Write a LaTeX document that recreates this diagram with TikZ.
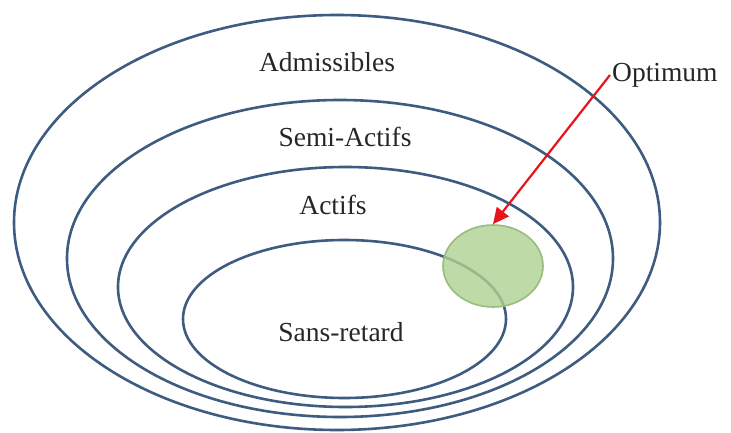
\documentclass[tikz,border=0pt]{standalone}
\usepackage{fontspec}
\setmainfont{Liberation Serif}
\usetikzlibrary{arrows.meta,shapes.geometric}
\definecolor{SetBlue}{HTML}{3D5C80}
\definecolor{OptGreen}{HTML}{ADD191}
\definecolor{OptEdge}{HTML}{98BC7C}
\definecolor{ArrowRed}{HTML}{E8141B}

\begin{document}
\begin{tikzpicture}[x=1pt,y=-1pt, every node/.style={font=\rmfamily\fontsize{27.5}{32}\selectfont}]
    \tikzset{set/.style={ellipse,draw=SetBlue,line width=2.6pt,inner sep=0pt},
      lbl/.style={text=black!85,inner sep=2pt}}
    \useasboundingbox (0,0) rectangle (731,433);
    % nested sets
    \node[set,minimum width=646pt,minimum height=415pt] (adm) at (337,222.5) {};
    \node[set,minimum width=546pt,minimum height=317pt] (semi) at (340,258.5) {};
    \node[set,minimum width=455pt,minimum height=240pt] (act) at (345.5,287) {};
    \node[set,minimum width=323pt,minimum height=158pt] (sr) at (344.5,319) {};
    \node[ellipse,draw=OptEdge,line width=1.6pt,fill=OptGreen,fill opacity=0.8,
      minimum width=100pt,minimum height=82pt,inner sep=0pt] (opt) at (493,266) {};
    % labels
    \node[lbl] (admlbl) at (327,62) {Admissibles};
    \node[lbl] (semilbl) at (345,137) {Semi-Actifs};
    \node[lbl] (actlbl) at (333,205) {Actifs};
    \node[lbl] (srlbl) at (341,332) {Sans-retard};
    \node[lbl,anchor=west] (optlbl) at (610,75) {Optimum};
    \draw[-{Triangle[length=16pt,width=15pt]},ArrowRed,line width=2.2pt] (optlbl.west) -- (opt.north);
\end{tikzpicture}
\end{document}
